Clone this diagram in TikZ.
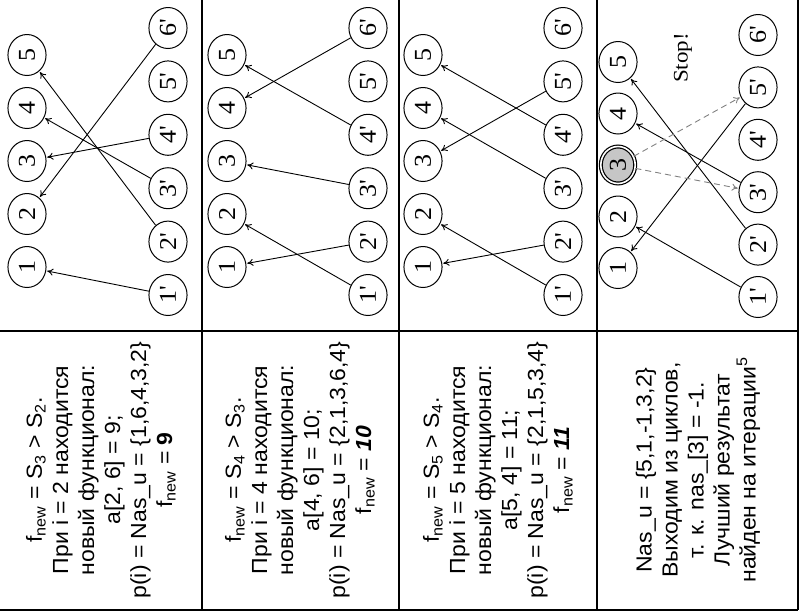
\documentclass[tikz,border=0pt]{standalone}
\usepackage{fontspec}
\setmainfont{Liberation Serif}
\newfontfamily\arialfont{Liberation Sans}
\usetikzlibrary{arrows.meta}
\tikzset{
    vertex/.style={draw,circle,line width=1pt,minimum size=41pt,inner sep=0pt,
        rotate=90,yscale=0.93,font=\fontsize{26}{26}\selectfont},
    chosen/.style={vertex,fill=gray!45,double,double distance=1.6pt,line width=1.2pt,minimum size=37pt},
    pairing/.style={-{To[length=6pt,width=7pt]},line width=0.9pt,shorten >=1pt},
    probe/.style={pairing,gray,dash pattern=on 6pt off 4pt},
    celltext/.style={align=center,rotate=90,yscale=0.95,
        font=\arialfont\fontsize{23}{27.4}\selectfont},
    tableline/.style={black,line width=1.2pt}
}

\begin{document}
\begin{tikzpicture}[x=1pt,y=-1pt]
\useasboundingbox (0,0) rectangle (800,611);

% circles of the four iterations
\foreach \c/\xl/\xr/\yl/\dl/\yr/\dr in {1/27/168/267/53/295/53.4,
    2/227/368/267/53/295/53.4, 3/423/563/267/53/295/53.4, 4/618/758/268/51.5/297/52.4}
{
    \foreach \i in {1,...,5}
        {\tikzset{cur/.style={vertex}}
         \ifnum\c\i=43 \tikzset{cur/.style={chosen}}\fi
         \node[cur] (l\c-\i) at (\xl,\yl-\dl*\i+\dl) {\i};
        }
    \foreach \i in {1,...,6}
        \node[vertex] (r\c-\i) at (\xr,\yr-\dr*\i+\dr) {\i\textquotesingle};
}
\node[rotate=90,yscale=0.9,font=\fontsize{23}{23}\selectfont] (stop) at (683,58) {Stop!};

% matchings
\foreach \c/\p/\q in {1/1/1, 1/2/5, 1/3/4, 1/4/3, 1/6/2,
    2/2/1, 2/1/2, 2/3/3, 2/6/4, 2/4/5,
    3/2/1, 3/1/2, 3/5/3, 3/3/4, 3/4/5,
    4/5/1, 4/1/2, 4/3/4, 4/2/5}
    \draw[pairing](r\c-\p)--(l\c-\q);
\draw[probe](l4-3)--(r4-5);
\draw[probe](l4-3)--(r4-3);

% texts
\node[celltext] (t1) at (101,470) {f\textsubscript{new} = S\textsubscript{3} > S\textsubscript{2}.\\
    При i = 2 находится\\новый функционал:\\a[2, 6] = 9;\\
    p(i) = Nas\_u = \{1,6,4,3,2\}\\f\textsubscript{new} = \textbf{9}};
\node[celltext] (t2) at (300,470) {f\textsubscript{new} = S\textsubscript{4} > S\textsubscript{3}.\\
    При i = 4 находится\\новый функционал:\\a[4, 6] = 10;\\
    p(i) = Nas\_u = \{2,1,3,6,4\}\\f\textsubscript{new} = \textbf{\textit{10}}};
\node[celltext] (t3) at (498,470) {f\textsubscript{new} = S\textsubscript{5} > S\textsubscript{4}.\\
    При i = 5 находится\\новый функционал:\\a[5, 4] = 11;\\
    p(i) = Nas\_u = \{2,1,5,3,4\}\\f\textsubscript{new} = \textbf{\textit{11}}};
\node[celltext] (t4) at (698,470) {Nas\_u = \{5,1,-1,3,2\}\\Выходим из циклов,\\
    т. к. nas\_[3] = -1.\\Лучший результат\\найден на итерации\textsuperscript{5}};

% table
\draw[tableline](0,331)--(798,331);
\draw[tableline](0,610)--(798,610);
\foreach \x in {202,399,597,798}
    \draw[tableline](\x,0)--(\x,610);
\end{tikzpicture}
\end{document}
